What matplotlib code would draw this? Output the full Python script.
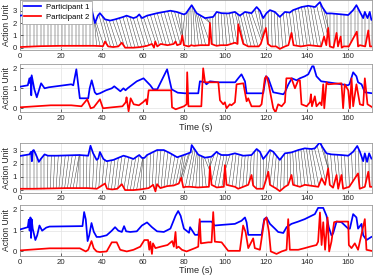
import numpy as np
import matplotlib
matplotlib.use("Agg")
import matplotlib.pyplot as plt

plt.rcParams['font.family'] = ['Liberation Sans', 'DejaVu Sans']

# ---------------- data ----------------
# Panel 1: aligned view (participant 1 shifted up)
p1_blue_t = [0, 4, 5, 5.6, 6.2, 7, 8.5, 10, 12, 14, 20, 26, 33, 34.4, 36.6, 38, 39, 41.5, 44, 46.5, 50.5, 52, 55.4, 57, 58.2, 59.5, 62,
             66.9, 73.4, 76.5, 80, 81, 83.8, 86.2, 90.3, 94.3, 96, 98.4, 101.6, 104.9, 107.3, 109.8, 113, 115.5, 117.1, 118.7, 120.3,
             122, 124.4, 126.8, 129.3, 131.7, 133.3, 135, 137.4, 140.7, 144, 146.4, 147.5, 149.6, 152, 160.2, 162.6, 164.2, 165.9,
             167.5, 168.3, 169.6, 170.7, 171.5, 172]
p1_blue_v = [2.6, 2.7, 3.0, 2.2, 3.0, 2.8, 2.2, 2.4, 2.7, 2.65, 2.65, 2.8, 2.85, 3.5, 2.0, 2.6, 2.8, 2.3, 2.2, 2.3, 2.5, 2.6, 2.4, 2.5,
             2.7, 2.4, 2.6, 2.8, 3.0, 2.9, 2.7, 2.78, 3.45, 2.8, 2.4, 2.5, 2.9, 2.8, 2.78, 2.9, 2.6, 2.9, 2.8, 3.3, 3.0, 2.4, 2.8,
             3.05, 2.9, 2.5, 2.9, 2.85, 3.05, 3.15, 3.3, 3.4, 3.3, 3.7, 3.3, 2.78, 2.78, 2.65, 3.05, 3.45, 2.9, 2.4, 2.9, 2.4,
             2.9, 2.25, 2.3]
p1_red_t = [0, 10, 20, 36, 40.5, 41.5, 43, 45.5, 48, 49.7, 51.3, 55.4, 58.7, 62, 64.4, 65.4, 66, 67, 68.7, 72, 75, 75.9, 76.7, 78.4,
            79.2, 80, 82.2, 82.5, 83.5, 85, 88, 92.2, 92.7, 93.5, 95, 96, 98, 101, 104.9, 106.2, 106.5, 108.5, 109, 111.4, 113,
            116.5, 117.5, 119.2, 120, 121, 122.6, 125, 126.8, 129.3, 131, 132.5, 133.5, 137, 141, 147, 148.4, 149.5, 150.4, 151.2,
            153, 154.5, 155.2, 156.5, 157, 158, 160.5, 164.4, 165, 165.9, 168.5, 170, 170.8, 172]
p1_red_v = [0.05, 0.12, 0.15, 0.15, 0.12, 0.5, 0.1, 0.05, 0.1, 0.4, 0.0, 0.0, 0.05, 0.15, 0.3, 0.0, 0.5, 0.1, 0.3, 0.2, 0.3, 0.5, 0.2,
            0.3, 1.0, 0.2, 0.1, 0.1, 0.2, 0.15, 0.2, 0.2, 2.0, 0.3, 0.2, 0.15, 0.2, 0.2, 0.4, 0.3, 1.9, 0.6, 0.3, 0.1, 0.1, 0.1, 0.3,
            1.2, 1.6, 0.3, 0.1, 0.1, -0.1, 0.1, 0.2, 1.2, 0.2, 0.1, 0.2, 0.1, 0.9, 0.2, 1.6, 0.1, 0.0, 1.2, 0.1, 0.9, 0.0, 0.1, 0.1,
            1.3, 0.1, 0.2, 0.1, 1.4, 0.1, 0.1]
# warping path anchors (participant-2 time, participant-1 time)
p1_warp_red = [0, 36, 41, 78.5, 79.2, 79.2, 92.7, 92.7, 118, 119, 150, 151, 172]
p1_warp_blue = [0, 36, 37, 74, 76, 81, 88, 93, 113, 119, 146, 151, 172]

# Panel 2: raw signals
p2_blue_t = [0, 3.8, 4.6, 5.0, 5.4, 5.5, 5.7, 7, 8.2, 10.3, 12, 14, 25, 26, 27.5, 29.2, 33.3, 34, 35, 36.5, 37.4, 39, 42, 44.8, 46,
             49, 50.5, 51.5, 52.5, 57, 60.3, 63.6, 65, 67, 71.8, 74, 77, 80.5, 87, 87.8, 90.3, 91, 92.7, 96.8, 105, 106.5, 108.1,
             109.8, 110.6, 118.7, 120, 121.2, 123.6, 128.5, 129.3, 131, 132.7, 135, 136.6, 139, 140.7, 142.6, 143.3, 144.7, 147,
             150.4, 156.9, 160, 160.8, 162.6, 164.2, 165, 166.7, 168.3, 172]
p2_blue_v = [1.08, 1.15, 1.5, 1.25, 1.55, 0.65, 1.65, 0.95, 0.55, 1.25, 1.0, 1.05, 1.2, 1.15, 1.95, 0.5, 0.5, 1.0, 1.4, 0.8, 0.7, 0.75,
             0.9, 1.0, 1.1, 0.85, 1.0, 0.9, 1.0, 1.35, 1.5, 1.15, 0.95, 0.95, 1.95, 0.95, 0.78, 0.75, 0.75, 1.35, 1.3, 1.2, 1.35,
             1.3, 1.3, 1.5, 1.7, 1.35, 0.75, 0.75, 1.6, 1.5, 0.8, 0.7, 0.8, 1.2, 1.5, 1.4, 1.5, 1.6, 1.7, 2.1, 2.1, 1.6, 1.35,
             1.3, 1.2, 1.15, 1.2, 1.8, 1.6, 1.3, 1.2, 0.8, 0.75]
p2_red_t = [0, 15, 25, 30, 32.8, 34.5, 36, 39, 40.5, 45, 50, 51.6, 52, 53, 54, 55.5, 58, 60, 61.5, 62, 62.8, 73.8, 74.2, 76, 80,
            81.3, 81.6, 82.2, 88.5, 89.4, 90.3, 96.8, 97.6, 99.2, 100, 100.8, 102.4, 103.2, 104.9, 105.7, 109, 109.8, 110.6,
            111.4, 113, 117, 117.9, 119.5, 120.3, 121.2, 123.6, 124.7, 126, 127.7, 129.3, 130, 132.5, 134.2, 135.8, 136.6, 137.4,
            139.9, 141.5, 142, 142.5, 143.9, 144.7, 146.4, 147.2, 148, 148.5, 149.6, 150.4, 156.9, 157.7, 158.5, 160.2, 161,
            161.8, 162.6, 164.2, 165.9, 167.5, 168.3, 169.6, 172]
p2_red_v = [0.05, 0.15, 0.15, 0.1, 0.45, 0.0, 0.05, 0.45, 0.0, 0.05, 0.1, 0.3, 0.55, -0.15, 0.5, 0.2, 0.15, 0.3, 0.45, 0.2, 0.9,
            0.9, 0.05, -0.05, 0.1, 0.2, 1.8, 0.1, 0.1, 2.0, 1.3, 1.3, 0.4, 0.2, 0.3, 0.0, 0.2, 0.15, 0.3, 1.2, 1.25, 0.8, 0.35,
            0.5, 0.1, 0.1, 0.2, 1.5, 1.6, 1.3, 0.0, -0.2, 0.2, 0.1, 0.3, 1.5, 1.5, 1.0, 1.4, 1.4, 0.2, 0.1, 0.3, 0.7, 0.1, 0.6,
            0.1, 0.3, 0.15, 1.2, 0.0, 1.3, 1.2, 1.25, 0.0, 1.2, 0.9, 0.0, 1.5, 0.1, 1.2, 0.2, 0.15, 1.5, 0.2, 0.05]

# Panel 3: aligned view (second pair)
p3_blue_t = [0, 4.6, 5.4, 5.8, 6.2, 6.7, 7.5, 8.4, 9.2, 10.3, 12, 13.6, 18, 29, 33.3, 34.4, 35.7, 37.4, 38.2, 39, 40.7, 42.3, 45.6,
             50.5, 52.1, 55.4, 57, 58.2, 59.5, 60.7, 62, 66.9, 70.2, 73.4, 76.7, 80.8, 83.3, 83.8, 87, 90.3, 93.5, 96, 96.8, 98.4,
             101.6, 104.9, 109, 113, 115.5, 117.1, 118.7, 120.3, 122, 123.6, 126.8, 129.3, 132.5, 135.8, 139, 142.3, 143.9, 146.4,
             147.5, 149.6, 152, 156.9, 160.2, 162.6, 164.6, 165.9, 167.5, 168.3, 169.4, 170.4, 171.5]
p3_blue_v = [2.6, 2.72, 2.92, 2.2, 3.0, 3.05, 2.8, 2.47, 2.15, 2.4, 2.72, 2.62, 2.62, 2.67, 2.62, 3.38, 2.8, 2.3, 2.4, 2.9, 2.37, 2.2,
             2.3, 2.62, 2.55, 2.37, 2.55, 2.67, 2.45, 2.45, 2.67, 3.05, 3.05, 2.8, 2.5, 2.72, 2.87, 3.43, 2.7, 2.47, 2.55, 2.92,
             2.8, 2.67, 2.67, 2.8, 2.62, 2.67, 3.13, 2.92, 2.37, 2.67, 3.05, 2.92, 2.3, 2.8, 2.87, 3.05, 3.18, 3.13, 3.18, 3.64,
             3.3, 2.8, 2.72, 2.67, 2.62, 2.92, 3.36, 2.92, 2.2, 2.8, 2.15, 2.8, 2.4]
p3_red_t = [0, 6.5, 23, 33, 37.5, 41.5, 42.5, 45, 47.5, 49.7, 51.3, 55.4, 58.7, 62.8, 65, 66.1, 66.9, 68.5, 71.8, 75, 77.5, 78.7,
            79.7, 80.8, 83, 86.8, 92.2, 92.7, 93.5, 96, 99.5, 100, 100.8, 104.9, 106.5, 111.4, 113, 113.8, 115.5, 118.7, 120.3,
            121.2, 122, 125.2, 126.8, 129.3, 130.9, 132.5, 133.3, 136.6, 139, 145.6, 147.2, 148.9, 150.4, 151.2, 152.8, 154.5,
            155.3, 156.9, 157.7, 160.7, 165, 165.8, 168.3, 170, 170.8, 172]
p3_red_v = [0.1, 0.1, 0.15, 0.15, 0.1, 0.5, 0.1, 0.05, 0.1, 0.45, 0.0, 0.0, 0.05, 0.15, 0.4, -0.1, 0.45, 0.15, 0.3, 0.35, 0.5,
            0.95, 0.2, 0.25, 0.25, 0.2, 0.25, 1.8, 0.4, 0.2, 0.25, 1.9, 0.4, 0.25, 0.1, 0.4, 1.15, 0.35, 0.1, 0.1, 0.9, 1.4,
            0.4, 0.1, -0.08, 0.25, 0.4, 1.15, 0.4, 0.25, 0.4, 0.25, 0.9, 0.4, 1.65, 0.4, 0.18, 1.15, 0.1, 1.15, 0.1, 0.25, 1.27,
            0.1, 0.25, 1.4, 0.25, 0.25]
p3_warp_red = [0, 13, 26, 29, 57, 60, 76, 78.7, 78.7, 92.7, 92.7, 118, 121, 150.4, 150.4, 172]
p3_warp_blue = [0, 13, 29, 29, 60, 60, 79, 80, 83.8, 90, 96, 118, 123, 146, 149, 172]

# Panel 4: raw signals (second pair)
p4_blue_t = [0, 3.8, 4.3, 4.7, 5.1, 5.4, 5.7, 6.2, 7.5, 8.4, 9.5, 10.8, 12.8, 14.4, 29.2, 30.5, 31.3, 32.1, 33, 33.8, 34.9, 36,
             37.4, 39, 42.3, 44.8, 46.4, 48, 49.7, 50.8, 51.8, 53.8, 57, 59.5, 62, 64.4, 66.9, 70.2, 73.4, 75.9, 77.2, 78.4, 80,
             82.5, 83, 85.4, 87, 87.8, 93.5, 95, 98.4, 104.9, 108.1, 109.8, 110.6, 111.4, 117.9, 119.2, 120.3, 122, 124.4, 126,
             128.5, 130.1, 132.5, 135.8, 139, 143.9, 145.5, 148, 149.6, 150.7, 152, 152.8, 154.5, 156.9, 160.2, 161, 162.6, 164.2,
             165, 166.7, 167.5, 169.1, 171.5]
p4_blue_v = [1.06, 1.17, 1.53, 1.0, 1.64, 0.65, 1.55, 1.1, 0.55, 0.78, 1.25, 1.0, 1.15, 1.2, 1.22, 1.22, 1.9, 1.55, 0.5, 0.78, 1.37,
             0.95, 0.7, 0.7, 0.78, 1.0, 1.17, 1.0, 0.94, 1.22, 0.97, 0.94, 0.97, 1.25, 1.4, 1.17, 0.97, 0.94, 1.1, 1.72, 1.95,
             1.72, 1.1, 0.9, 1.17, 0.8, 0.8, 1.44, 1.44, 1.25, 1.28, 1.33, 1.48, 1.64, 1.4, 0.8, 0.8, 1.56, 1.64, 1.33, 1.1, 0.94,
             0.89, 1.17, 1.33, 1.44, 1.56, 1.8, 2.1, 2.1, 1.72, 1.17, 0.78, 0.86, 1.44, 1.41, 1.1, 1.1, 1.8, 1.64, 1.1, 1.33, 0.78,
             0.55, 0.7]
p4_red_t = [0, 14.4, 29.2, 32.1, 33.3, 34.9, 36, 37.4, 39, 42.3, 44.8, 47.2, 48.9, 52.1, 55.4, 58.7, 60.7, 62.5, 63.1, 63.6, 64.4,
            64.9, 66.1, 68.7, 72, 74.3, 75.1, 75.9, 76.4, 77.4, 79, 81.3, 85.4, 87, 87.7, 88.3, 91.9, 93.5, 94.3, 95.1, 98.4,
            101.6, 107.3, 108.9, 110.1, 111.4, 113.8, 114.6, 117.1, 119.2, 120.3, 121.5, 122.4, 125.2, 127.7, 130.1, 130.9,
            131.7, 135.8, 139, 141.5, 144.7, 145.5, 146.4, 147.2, 148, 148.9, 150.1, 150.9, 152, 153.3, 154.5, 160.2, 160.5,
            161.8, 163.4, 165, 168.3, 169.1, 171.5]
p4_red_v = [0.05, 0.15, 0.15, 0.0, 0.08, 0.5, 0.15, 0.0, -0.03, 0.0, 0.44, 0.44, 0.08, 0.0, 0.08, 0.23, 0.55, 0.55, 0.08, 0.47,
            -0.12, 0.39, 0.16, 0.23, 0.31, 0.5, 0.23, 0.94, 0.16, 0.23, 0.08, 0.0, 0.16, 0.23, 1.56, 0.39, 0.44, 0.44, 1.9, 0.47,
            0.44, 0.03, 0.03, 1.25, 0.94, 0.16, 0.63, 0.16, 0.08, 1.48, 1.64, 0.94, 0.0, -0.12, 0.0, 0.08, 1.56, 0.08, 0.08, 0.16,
            0.23, 0.31, 0.47, 1.88, 0.31, 1.41, 0.08, 1.64, 0.0, 0.47, 1.41, 1.44, 1.44, 0.31, 0.16, 0.39, 0.08, 1.56, 0.08, 0.03]

XTICKS = [0, 20, 40, 60, 80, 100, 120, 140, 160]

# ---------------- figure ----------------
W, H = 374, 277
fig = plt.figure(figsize=(W / 100, H / 100), dpi=100)


def add_ax(left, top, right, bottom):
    return fig.add_axes([left / W, 1 - bottom / H, (right - left) / W, (bottom - top) / H])


FS = 5.6
GRAYTXT = '#262626'


def style(ax, ylim, yticks):
    ax.set_xlim(0, 171.8)
    ax.set_ylim(*ylim)
    ax.set_xticks(XTICKS)
    ax.set_yticks(yticks)
    ax.tick_params(direction='in', length=2, width=0.5, labelsize=FS, pad=2, colors=GRAYTXT)
    ax.grid(True, color='#e3e3e3', linewidth=0.5)
    ax.set_axisbelow(True)
    for s in ax.spines.values():
        s.set_color('#9a9a9a')
        s.set_linewidth(0.6)
    ax.set_ylabel('Action Unit', fontsize=6.2, color=GRAYTXT, labelpad=1.5)


def warp_lines(ax, rt, rv, bt, bv, wr, wb, step=1.7):
    wr = np.asarray(wr, float)
    wb = np.asarray(wb, float)
    seg = np.maximum(np.abs(np.diff(wr)), np.abs(np.diff(wb)))
    s_anchor = np.concatenate([[0], np.cumsum(seg)])
    s = np.arange(0, s_anchor[-1] + 1e-9, step)
    tr = np.interp(s, s_anchor, wr)
    tb = np.interp(s, s_anchor, wb)
    yr = np.interp(tr, rt, rv)
    yb = np.interp(tb, bt, bv)
    for a, b, c, d in zip(tr, tb, yr, yb):
        ax.plot([a, b], [c, d], color='#3a3a3a', linewidth=0.35, zorder=2)


LW = 1.25
# Panel 1
ax1 = add_ax(20, 0, 372, 50)
style(ax1, (-0.19, 3.87), [0, 1, 2, 3])
warp_lines(ax1, p1_red_t, p1_red_v, p1_blue_t, p1_blue_v, p1_warp_red, p1_warp_blue)
ax1.plot(p1_blue_t, p1_blue_v, color='#0000ff', linewidth=LW, label='Participant 1', zorder=3)
ax1.plot(p1_red_t, p1_red_v, color='#ff0000', linewidth=LW, label='Participant 2', zorder=3)
leg = ax1.legend(loc='upper left', bbox_to_anchor=(0.0, 1.02), fontsize=FS, frameon=True, fancybox=False,
                 handlelength=2.2, handletextpad=0.6, borderpad=0.35, labelspacing=0.35, borderaxespad=0.2)
leg.get_frame().set_edgecolor('#9a9a9a')
leg.get_frame().set_linewidth(0.5)
leg.get_frame().set_alpha(1)
leg.set_zorder(10)

# Panel 2
ax2 = add_ax(20, 64.3, 372, 112.3)
style(ax2, (-0.2, 2.2), [0, 1, 2])
ax2.plot(p2_blue_t, p2_blue_v, color='#0000ff', linewidth=LW, zorder=3)
ax2.plot(p2_red_t, p2_red_v, color='#ff0000', linewidth=LW, zorder=3)
ax2.set_xlabel('Time (s)', fontsize=6.6, color=GRAYTXT, labelpad=1)

# Panel 3
ax3 = add_ax(20, 142.7, 372, 192.7)
style(ax3, (-0.2, 3.61), [0, 1, 2, 3])
warp_lines(ax3, p3_red_t, p3_red_v, p3_blue_t, p3_blue_v, p3_warp_red, p3_warp_blue)
ax3.plot(p3_blue_t, p3_blue_v, color='#0000ff', linewidth=LW, zorder=3)
ax3.plot(p3_red_t, p3_red_v, color='#ff0000', linewidth=LW, zorder=3)

# Panel 4
ax4 = add_ax(20, 205, 372, 256)
style(ax4, (-0.22, 2.24), [0, 1, 2])
ax4.plot(p4_blue_t, p4_blue_v, color='#0000ff', linewidth=LW, zorder=3)
ax4.plot(p4_red_t, p4_red_v, color='#ff0000', linewidth=LW, zorder=3)
ax4.set_xlabel('Time (s)', fontsize=6.6, color=GRAYTXT, labelpad=0.5)

fig.savefig('out.png', dpi=100)
